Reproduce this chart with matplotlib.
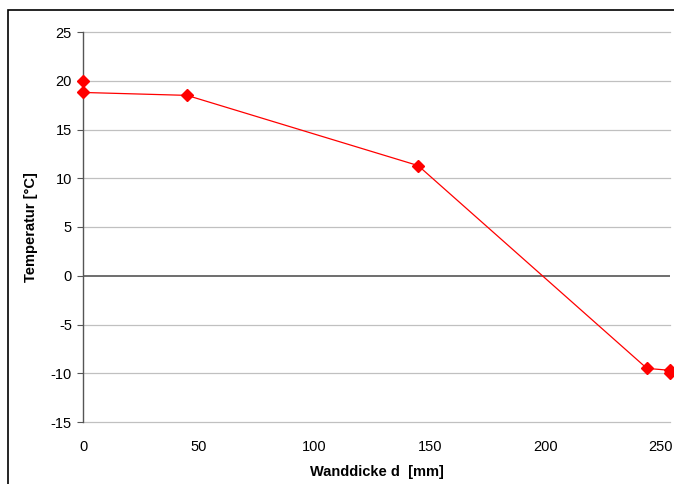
import matplotlib.pyplot as plt
from matplotlib.patches import Rectangle

plt.rcParams['font.family'] = ['Liberation Sans', 'DejaVu Sans']
plt.rcParams['axes.unicode_minus'] = False

# Wanddicke (mm) und Temperatur (°C)
wanddicke = [0, 0, 45, 145, 244, 254, 254]
temperatur = [20.0, 18.8, 18.5, 11.3, -9.5, -9.7, -10.0]

x_ticks = [0, 50, 100, 150, 200, 250]
y_ticks = [-15, -10, -5, 0, 5, 10, 15, 20, 25]

fig = plt.figure(figsize=(6.74, 4.84), dpi=100)
ax = fig.add_axes([83 / 674, 1 - 422 / 484, 587 / 674, 390 / 484])

# outer chart frame (only left and top visible)
fig.add_artist(Rectangle((8 / 674, -0.1), 1.2, 1 - 10 / 484 + 0.1,
                         transform=fig.transFigure, fill=False,
                         edgecolor='black', linewidth=1.2))

ax.set_xlim(0, 254)
ax.set_ylim(-15, 25)
ax.set_xticks(x_ticks)
ax.set_yticks(y_ticks)

for yv in y_ticks:
    if yv != 0:
        ax.axhline(yv, color='#c0c0c0', linewidth=0.9, zorder=1, clip_on=False)
ax.axhline(0, color='#555555', linewidth=1.2, zorder=2)

for s in ['top', 'right', 'bottom']:
    ax.spines[s].set_visible(False)
ax.spines['left'].set_color('#555555')
ax.spines['left'].set_linewidth(1.0)

ax.tick_params(axis='y', length=4, color='#555555', labelsize=10.5, pad=4)
ax.tick_params(axis='x', length=0, labelsize=10.5, pad=13)

ax.plot(wanddicke, temperatur, color='#ff0000', linewidth=0.9,
        marker='D', markersize=6.3, markerfacecolor='#ff0000',
        markeredgecolor='#ff0000', clip_on=False, zorder=3)

ax.set_xlabel('Wanddicke d  [mm]', fontsize=10.5, fontweight='bold', labelpad=8)
ax.set_ylabel('Temperatur [°C]', fontsize=10.5, fontweight='bold', labelpad=9)

fig.savefig('out.png', dpi=100)
